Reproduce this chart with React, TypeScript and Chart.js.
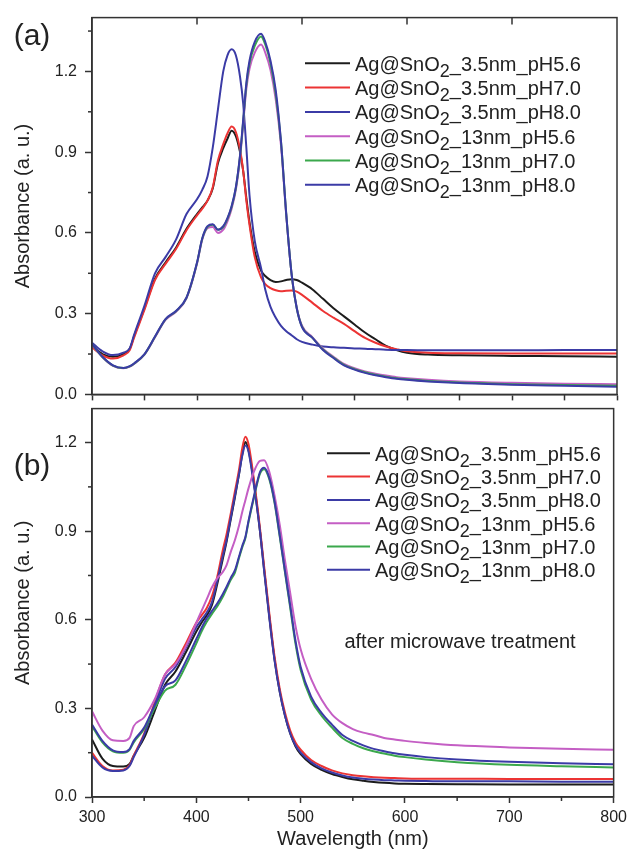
import { useEffect, useRef } from "react";
import { Chart, registerables } from "chart.js";

Chart.register(...registerables);

// ---------- data ----------
const WAVELENGTH = [
  300, 310, 320, 330, 336, 340, 350, 360, 370, 380, 390, 400, 405, 410, 415, 420, 425,
  429, 433, 437, 441, 444, 447, 450, 455, 461, 465, 470, 475, 480, 485, 490, 495, 500,
  510, 520, 530, 540, 550, 560, 570, 580, 590, 600, 620, 650, 700, 750, 800,
];

// Panel (a)
const A_35NM_PH56 = [
  0.180, 0.150, 0.140, 0.150, 0.170, 0.215, 0.320, 0.430, 0.490, 0.545, 0.615, 0.670, 0.695, 0.720, 0.765, 0.860, 0.915,
  0.950, 0.980, 0.960, 0.900, 0.830, 0.730, 0.640, 0.530, 0.460, 0.440, 0.425, 0.418, 0.420, 0.425, 0.428, 0.425, 0.415,
  0.390, 0.355, 0.320, 0.290, 0.260, 0.230, 0.205, 0.180, 0.165, 0.155, 0.148, 0.145, 0.143, 0.142, 0.140,
];
const A_35NM_PH70 = [
  0.175, 0.145, 0.133, 0.145, 0.165, 0.210, 0.315, 0.425, 0.485, 0.540, 0.610, 0.665, 0.690, 0.720, 0.770, 0.870, 0.930,
  0.970, 0.995, 0.975, 0.910, 0.830, 0.720, 0.630, 0.510, 0.435, 0.410, 0.395, 0.387, 0.383, 0.385, 0.386, 0.382, 0.370,
  0.340, 0.310, 0.285, 0.262, 0.235, 0.210, 0.192, 0.178, 0.168, 0.160, 0.155, 0.153, 0.152, 0.152, 0.152,
];
const A_35NM_PH80 = [
  0.192, 0.160, 0.146, 0.155, 0.172, 0.220, 0.330, 0.450, 0.510, 0.575, 0.670, 0.725, 0.760, 0.810, 0.917, 1.060, 1.200,
  1.260, 1.282, 1.260, 1.180, 1.080, 0.917, 0.740, 0.570, 0.470, 0.390, 0.325, 0.285, 0.255, 0.235, 0.220, 0.205, 0.195,
  0.185, 0.178, 0.175, 0.173, 0.171, 0.170, 0.168, 0.166, 0.165, 0.165, 0.164, 0.164, 0.164, 0.165, 0.165,
];
const A_13NM_PH56 = [
  0.185, 0.138, 0.106, 0.097, 0.103, 0.113, 0.148, 0.212, 0.277, 0.307, 0.357, 0.485, 0.575, 0.618, 0.622, 0.600, 0.612,
  0.643, 0.690, 0.760, 0.878, 1.005, 1.135, 1.210, 1.270, 1.300, 1.270, 1.205, 1.095, 0.925, 0.665, 0.450, 0.322, 0.255,
  0.212, 0.170, 0.140, 0.113, 0.097, 0.085, 0.077, 0.070, 0.064, 0.060, 0.054, 0.048, 0.043, 0.040, 0.038,
];
const A_13NM_PH70 = [
  0.187, 0.139, 0.107, 0.098, 0.104, 0.114, 0.149, 0.214, 0.279, 0.309, 0.359, 0.488, 0.578, 0.622, 0.630, 0.612, 0.622,
  0.652, 0.697, 0.767, 0.885, 1.015, 1.150, 1.230, 1.295, 1.330, 1.300, 1.230, 1.115, 0.938, 0.670, 0.450, 0.320, 0.252,
  0.210, 0.167, 0.137, 0.110, 0.094, 0.082, 0.073, 0.066, 0.060, 0.056, 0.050, 0.044, 0.038, 0.035, 0.032,
];
const A_13NM_PH80 = [
  0.188, 0.140, 0.108, 0.098, 0.105, 0.115, 0.150, 0.215, 0.280, 0.310, 0.360, 0.490, 0.580, 0.625, 0.632, 0.612, 0.625,
  0.655, 0.700, 0.770, 0.890, 1.020, 1.158, 1.240, 1.310, 1.340, 1.310, 1.240, 1.130, 0.940, 0.670, 0.450, 0.320, 0.250,
  0.210, 0.165, 0.135, 0.108, 0.092, 0.080, 0.071, 0.064, 0.058, 0.054, 0.048, 0.042, 0.036, 0.032, 0.028,
];

// Panel (b): after microwave treatment
const B_35NM_PH56 = [
  0.195, 0.130, 0.105, 0.103, 0.112, 0.140, 0.200, 0.290, 0.380, 0.425, 0.490, 0.560, 0.590, 0.615, 0.650, 0.720, 0.800,
  0.865, 0.940, 1.015, 1.095, 1.160, 1.202, 1.175, 1.070, 0.900, 0.770, 0.610, 0.465, 0.355, 0.275, 0.215, 0.172, 0.145,
  0.112, 0.092, 0.078, 0.068, 0.060, 0.055, 0.051, 0.048, 0.046, 0.045, 0.044, 0.043, 0.042, 0.042, 0.042,
];
const B_35NM_PH70 = [
  0.150, 0.105, 0.090, 0.092, 0.108, 0.140, 0.215, 0.320, 0.415, 0.455, 0.520, 0.590, 0.615, 0.640, 0.680, 0.745, 0.830,
  0.890, 0.960, 1.035, 1.110, 1.180, 1.220, 1.195, 1.080, 0.910, 0.780, 0.620, 0.475, 0.365, 0.285, 0.225, 0.185, 0.160,
  0.125, 0.105, 0.090, 0.080, 0.074, 0.070, 0.067, 0.065, 0.064, 0.063, 0.062, 0.062, 0.061, 0.061, 0.061,
];
const B_35NM_PH80 = [
  0.140, 0.100, 0.088, 0.090, 0.105, 0.135, 0.210, 0.310, 0.400, 0.440, 0.505, 0.575, 0.600, 0.625, 0.660, 0.730, 0.810,
  0.870, 0.945, 1.020, 1.095, 1.155, 1.190, 1.170, 1.060, 0.900, 0.765, 0.605, 0.462, 0.355, 0.275, 0.215, 0.175, 0.150,
  0.118, 0.097, 0.083, 0.073, 0.066, 0.062, 0.059, 0.057, 0.056, 0.055, 0.054, 0.053, 0.053, 0.052, 0.052,
];
const B_13NM_PH56 = [
  0.290, 0.225, 0.192, 0.190, 0.200, 0.240, 0.270, 0.330, 0.415, 0.450, 0.510, 0.590, 0.630, 0.670, 0.710, 0.740, 0.760,
  0.785, 0.830, 0.870, 0.920, 0.965, 1.005, 1.045, 1.100, 1.138, 1.140, 1.100, 1.020, 0.920, 0.800, 0.690, 0.580, 0.500,
  0.400, 0.330, 0.280, 0.250, 0.230, 0.218, 0.210, 0.200, 0.195, 0.190, 0.183, 0.175, 0.168, 0.163, 0.160,
];
const B_13NM_PH70 = [
  0.240, 0.185, 0.155, 0.150, 0.160, 0.185, 0.230, 0.300, 0.360, 0.380, 0.445, 0.520, 0.560, 0.593, 0.620, 0.645, 0.675,
  0.705, 0.735, 0.760, 0.810, 0.845, 0.876, 0.930, 1.010, 1.095, 1.110, 1.075, 0.995, 0.880, 0.760, 0.640, 0.520, 0.430,
  0.330, 0.275, 0.235, 0.200, 0.180, 0.165, 0.155, 0.147, 0.140, 0.135, 0.127, 0.118, 0.109, 0.104, 0.100,
];
const B_13NM_PH80 = [
  0.245, 0.190, 0.158, 0.152, 0.162, 0.190, 0.235, 0.310, 0.375, 0.395, 0.460, 0.535, 0.572, 0.605, 0.630, 0.655, 0.685,
  0.712, 0.742, 0.768, 0.815, 0.850, 0.880, 0.935, 1.015, 1.100, 1.115, 1.080, 1.000, 0.885, 0.765, 0.648, 0.530, 0.440,
  0.340, 0.285, 0.245, 0.210, 0.190, 0.175, 0.163, 0.155, 0.148, 0.143, 0.135, 0.127, 0.119, 0.114, 0.111,
];

const PANEL_A_SERIES = [A_35NM_PH56, A_35NM_PH70, A_35NM_PH80, A_13NM_PH56, A_13NM_PH70, A_13NM_PH80];
const PANEL_B_SERIES = [B_35NM_PH56, B_35NM_PH70, B_35NM_PH80, B_13NM_PH56, B_13NM_PH70, B_13NM_PH80];

const SERIES_NAMES = ["3.5nm_pH5.6", "3.5nm_pH7.0", "3.5nm_pH8.0", "13nm_pH5.6", "13nm_pH7.0", "13nm_pH8.0"];
const LEGEND_PREFIX = "Ag@SnO";
const LEGEND_SUB = "2";
const SERIES_COLORS = ["#1c1c1c", "#ec3434", "#3b3ba6", "#c45ec4", "#3ba84c", "#3b3ba6"];

const X_MIN = 300;
const X_MAX = 800;
const X_STEP = 100;
const X_MINOR = [350, 450, 550, 650, 750];
const X_TOP_TICKS = [400, 500, 600, 700];
const Y_STEP = 0.3;
const Y_MINOR_A = [0.15, 0.45, 0.75, 1.05, 1.35];
const Y_MINOR_B = [0.15, 0.45, 0.75, 1.05];
const Y_MAX_A = 1.4;
const Y_MAX_B = 1.315;

const X_TITLE = "Wavelength (nm)";
const Y_TITLE = "Absorbance (a. u.)";
const LABEL_A = "(a)";
const LABEL_B = "(b)";
const NOTE_B = "after microwave treatment";

// ---------- styling ----------
const FONT = '"Liberation Sans", Arial, Helvetica, sans-serif';
const AXIS = "#333333";
const TEXT = "#222222";
Chart.defaults.font.family = FONT;

type Panel = {
  series: number[][];
  yMax: number;
  yMinor: number[];
  canvasTop: number;
  canvasHeight: number;
  padding: { top: number; right: number; bottom: number; left: number };
  xHeight: number;
  showX: boolean;
  topTicks: boolean;
  minorXLen: number;
  legend: { x1: number; x2: number; tx: number; y0: number; dy: number };
  label: { text: string; x: number; y: number };
  note?: { text: string; x: number; y: number };
};

const PANEL_A: Panel = {
  series: PANEL_A_SERIES,
  yMax: Y_MAX_A,
  yMinor: Y_MINOR_A,
  canvasTop: 0,
  canvasHeight: 412,
  padding: { top: 15, right: 15, bottom: 0, left: 0 },
  xHeight: 10,
  showX: false,
  topTicks: true,
  minorXLen: 6,
  legend: { x1: 305, x2: 350, tx: 355, y0: 63.3, dy: 24.3 },
  label: { text: LABEL_A, x: 32, y: 37 },
};

const PANEL_B: Panel = {
  series: PANEL_B_SERIES,
  yMax: Y_MAX_B,
  yMinor: Y_MINOR_B,
  canvasTop: 391,
  canvasHeight: 464,
  padding: { top: 10, right: 15, bottom: 4, left: 0 },
  xHeight: 54,
  showX: true,
  topTicks: false,
  minorXLen: 4,
  legend: { x1: 327, x2: 370, tx: 375, y0: 62.3, dy: 23.3 },
  label: { text: LABEL_B, x: 32, y: 76 },
  note: { text: NOTE_B, x: 460, y: 251 },
};

function decorPlugin(p: Panel) {
  return {
    id: "panelDecor",
    afterDraw(chart: any) {
      const { ctx, chartArea: a, scales } = chart;
      const xs = scales.x;
      const ys = scales.y;
      const seg = (x1: number, y1: number, x2: number, y2: number) => {
        ctx.beginPath();
        ctx.moveTo(x1, y1);
        ctx.lineTo(x2, y2);
        ctx.stroke();
      };
      ctx.save();
      ctx.strokeStyle = AXIS;
      ctx.lineWidth = 1.5;
      ctx.strokeRect(a.left, a.top, a.right - a.left, a.bottom - a.top);
      for (const v of p.yMinor) {
        const y = ys.getPixelForValue(v);
        seg(a.left - 4, y, a.left, y);
      }
      for (const v of X_MINOR) {
        const x = xs.getPixelForValue(v);
        seg(x, a.bottom, x, a.bottom + p.minorXLen);
      }
      if (p.topTicks) {
        for (const v of X_TOP_TICKS) {
          const x = xs.getPixelForValue(v);
          seg(x, a.top, x, a.top + 7);
        }
      }
      // legend
      const main = `20px ${FONT}`;
      const sub = `18px ${FONT}`;
      p.series.forEach((_, i) => {
        const y = p.legend.y0 + i * p.legend.dy;
        ctx.strokeStyle = SERIES_COLORS[i];
        ctx.lineWidth = 2;
        seg(p.legend.x1, y, p.legend.x2, y);
        ctx.fillStyle = TEXT;
        ctx.textAlign = "left";
        ctx.textBaseline = "alphabetic";
        ctx.font = main;
        const base = y + 7.5;
        let x = p.legend.tx;
        ctx.fillText(LEGEND_PREFIX, x, base);
        x += ctx.measureText(LEGEND_PREFIX).width;
        ctx.font = sub;
        ctx.fillText(LEGEND_SUB, x, base + 6);
        x += ctx.measureText(LEGEND_SUB).width;
        ctx.font = main;
        ctx.fillText("_" + SERIES_NAMES[i], x, base);
      });
      ctx.fillStyle = TEXT;
      ctx.textAlign = "center";
      ctx.textBaseline = "middle";
      ctx.font = `30px ${FONT}`;
      ctx.fillText(p.label.text, p.label.x, p.label.y);
      if (p.note) {
        ctx.font = `20px ${FONT}`;
        ctx.fillText(p.note.text, p.note.x, p.note.y);
      }
      ctx.restore();
    },
  };
}

function buildConfig(p: Panel): any {
  return {
    type: "line",
    data: {
      datasets: p.series.map((vals, i) => ({
        label: `Ag@SnO₂_${SERIES_NAMES[i]}`,
        data: WAVELENGTH.map((x, k) => ({ x, y: vals[k] })),
        borderColor: SERIES_COLORS[i],
        backgroundColor: SERIES_COLORS[i],
        borderWidth: 2,
        pointRadius: 0,
        fill: false,
        cubicInterpolationMode: "monotone",
        order: 5 - i,
      })),
    },
    options: {
      responsive: false,
      animation: false,
      events: [],
      layout: { padding: p.padding },
      plugins: { legend: { display: false }, tooltip: { enabled: false } },
      scales: {
        x: {
          type: "linear",
          min: X_MIN,
          max: X_MAX,
          afterFit: (s: any) => {
            s.height = p.xHeight;
          },
          ticks: {
            display: p.showX,
            stepSize: X_STEP,
            maxRotation: 0,
            padding: 5,
            color: TEXT,
            font: { size: 16 },
            callback: (v: any) => String(v),
          },
          grid: { drawOnChartArea: false, drawTicks: true, tickLength: 6, tickColor: AXIS, tickWidth: 1.5 },
          border: { display: true, color: AXIS, width: 1.5 },
          title: {
            display: p.showX,
            text: X_TITLE,
            color: TEXT,
            font: { size: 20 },
            padding: { top: 0, bottom: 0 },
          },
        },
        y: {
          min: 0,
          max: p.yMax,
          afterFit: (s: any) => {
            s.width = 92;
          },
          ticks: {
            stepSize: Y_STEP,
            includeBounds: false,
            padding: 8,
            color: TEXT,
            font: { size: 16 },
            callback: (v: any) => Number(v).toFixed(1),
          },
          grid: { drawOnChartArea: false, drawTicks: true, tickLength: 7, tickColor: AXIS, tickWidth: 1.5 },
          border: { display: true, color: AXIS, width: 1.5 },
          title: {
            display: true,
            text: Y_TITLE,
            color: TEXT,
            font: { size: 20 },
            padding: { top: 11, bottom: 0 },
          },
        },
      },
    },
    plugins: [decorPlugin(p)],
  };
}

function PanelChart({ panel }: { panel: Panel }) {
  const ref = useRef<HTMLCanvasElement | null>(null);
  useEffect(() => {
    if (!ref.current) return;
    const chart = new Chart(ref.current, buildConfig(panel));
    return () => chart.destroy();
  }, [panel]);
  return (
    <canvas
      ref={ref}
      width={632}
      height={panel.canvasHeight}
      style={{ position: "absolute", left: 0, top: panel.canvasTop, width: 632, height: panel.canvasHeight }}
    />
  );
}

export default function App() {
  return (
    <div style={{ position: "absolute", left: 0, top: 0, width: 632, height: 855, background: "#ffffff" }}>
      <PanelChart panel={PANEL_A} />
      <PanelChart panel={PANEL_B} />
    </div>
  );
}
